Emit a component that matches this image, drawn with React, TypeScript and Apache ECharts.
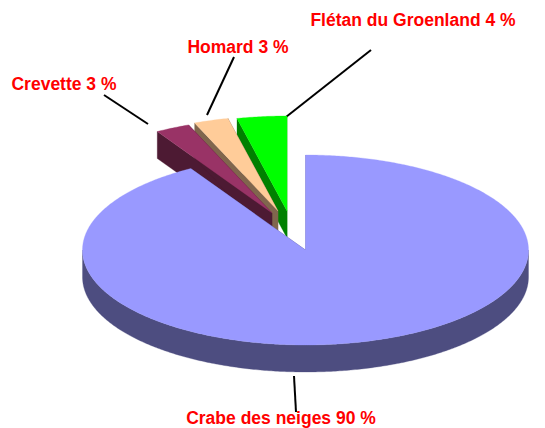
import React, { useEffect, useRef } from "react";
import * as echarts from "echarts";

const categories = ["Crabe des neiges", "Crevette", "Homard", "Flétan du Groenland"];
// Slice sizes (share of the circle, %)
const sliceValues = [91.4, 2.5, 2.5, 3.6];
// Percentages printed in the labels
const labelPercents = [90, 3, 3, 4];
const topColors = ["#9999FF", "#993366", "#FFCC99", "#00FF00"];
const wallColors = ["#4D4D80", "#4D1A33", "#80664D", "#008000"];

// Layout
const W = 545;
const H = 428;
const CX = 305.5;
const CY = 250;
const RX = 223;
const RY = 95;
const DEPTH = 27;
const explode = [[0, 0], [-33.5, -37], [-27.5, -39], [-18.5, -39]];
const labelAt = [[281, 418], [64, 84], [238, 47], [413, 20]];
const leaders = [
  [[294, 376], [296, 412]],
  [[104, 95], [148, 124]],
  [[234, 57], [207, 115]],
  [[371, 50], [286, 117]],
];

const total = sliceValues.reduce((a, b) => a + b, 0);

function renderSlice(_params: any, api: any) {
  const i = api.value(0);
  let before = 0;
  for (let k = 0; k < i; k++) before += sliceValues[k];
  const a0 = (before / total) * Math.PI * 2;
  const a1 = ((before + sliceValues[i]) / total) * Math.PI * 2;
  const ox = CX + explode[i][0];
  const oy = CY + explode[i][1];
  const pt = (a: number, d = 0) => [ox + RX * Math.sin(a), oy - RY * Math.cos(a) + d];
  const steps = Math.max(4, Math.ceil((a1 - a0) / 0.01));
  const arc: number[][] = [];
  for (let s = 0; s <= steps; s++) arc.push(pt(a0 + ((a1 - a0) * s) / steps));

  const children: any[] = [];
  const poly = (points: number[][], fill: string) =>
    children.push({ type: "polygon", shape: { points }, style: { fill, stroke: fill, lineWidth: 0.3 } });

  const apex = [ox, oy];
  const apexLow = [ox, oy + DEPTH];
  for (const a of [a0, a1]) {
    poly([apex, pt(a), pt(a, DEPTH), apexLow], wallColors[i]);
  }
  // Outer rim: only the front half of the circle is visible
  const r0 = Math.max(a0, Math.PI / 2);
  const r1 = Math.min(a1, (Math.PI * 3) / 2);
  if (r1 > r0) {
    const up: number[][] = [];
    const low: number[][] = [];
    const n = Math.ceil((r1 - r0) / 0.01);
    for (let s = 0; s <= n; s++) {
      const a = r0 + ((r1 - r0) * s) / n;
      up.push(pt(a));
      low.unshift(pt(a, DEPTH));
    }
    poly(up.concat(low), wallColors[i]);
  }
  poly([apex, ...arc], topColors[i]);
  return { type: "group", children };
}

export default function App() {
  const ref = useRef<HTMLDivElement>(null);
  useEffect(() => {
    document.body.style.margin = "0";
    const chart = echarts.init(ref.current!, undefined, { renderer: "svg" });
    const drawOrder = categories.map((_, i) => [categories.length - 1 - i]);
    chart.setOption({
      animation: false,
      backgroundColor: "#ffffff",
      series: [
        {
          type: "custom",
          coordinateSystem: "none",
          silent: true,
          data: drawOrder,
          renderItem: renderSlice,
        },
      ],
      graphic: {
        elements: [
          ...leaders.map(([a, b]) => ({
            type: "line",
            shape: { x1: a[0], y1: a[1], x2: b[0], y2: b[1] },
            style: { stroke: "#000000", lineWidth: 2 },
            silent: true,
          })),
          ...categories.map((c, i) => ({
            type: "text",
            x: labelAt[i][0],
            y: labelAt[i][1],
            silent: true,
            style: {
              text: `${c} ${labelPercents[i]} %`,
              fill: "#FF0000",
              font: 'bold 17.5px "Liberation Sans", Arial, sans-serif',
              textAlign: "center",
              textVerticalAlign: "middle",
            },
          })),
        ],
      },
    });
    return () => chart.dispose();
  }, []);
  return <div ref={ref} style={{ width: W, height: H, position: "absolute", left: 0, top: 0 }} />;
}
